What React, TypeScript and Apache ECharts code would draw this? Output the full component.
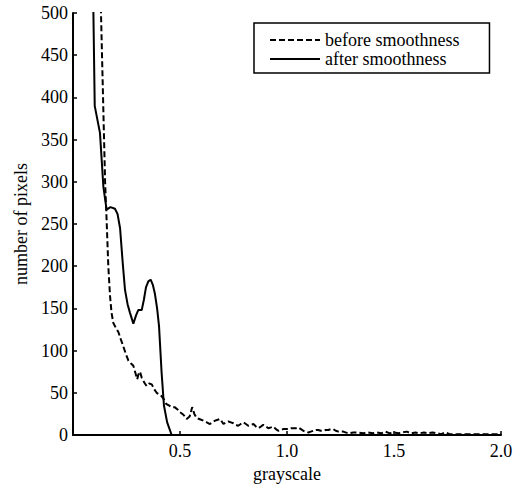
import React, { useEffect, useRef } from "react";
import * as echarts from "echarts";

const xTicks = ["0.5", "1.0", "1.5", "2.0"];
const beforeX = [0.125, 0.15, 0.157, 0.165, 0.173, 0.18, 0.188, 0.2, 0.212, 0.224, 0.235, 0.247, 0.259, 0.27, 0.282, 0.291, 0.3, 0.306, 0.313, 0.321, 0.329, 0.336, 0.344, 0.356, 0.368, 0.38, 0.391, 0.403, 0.414, 0.425, 0.435, 0.448, 0.461, 0.475, 0.49, 0.5, 0.516, 0.531, 0.545, 0.557, 0.567, 0.578, 0.59, 0.609, 0.625, 0.64, 0.652, 0.664, 0.676, 0.687, 0.703, 0.715, 0.726, 0.738, 0.749, 0.761, 0.772, 0.784, 0.796, 0.808, 0.819, 0.831, 0.843, 0.855, 0.866, 0.878, 0.889, 0.901, 0.913, 0.925, 0.936, 0.948, 0.959, 0.971, 0.983, 0.995, 1.006, 1.018, 1.03, 1.041, 1.053, 1.065, 1.076, 1.088, 1.1, 1.111, 1.123, 1.135, 1.146, 1.158, 1.17, 1.181, 1.193, 1.205, 1.216, 1.228, 1.24, 1.263, 1.286, 1.31, 1.33, 1.355, 1.38, 1.4, 1.42, 1.44, 1.46, 1.48, 1.5, 1.52, 1.54, 1.56, 1.58, 1.6, 1.62, 1.64, 1.66, 1.68, 1.7, 1.72, 1.74, 1.76, 1.78, 1.8, 1.85, 1.9, 1.95, 2.0];
const beforeY = [560, 300, 255, 200, 165, 145, 133, 127, 122, 113, 105, 96, 88, 85, 82, 74, 66, 72, 75, 68, 64, 61, 58, 61, 60, 54, 50, 48, 46, 42, 37, 35, 33, 33, 30, 27, 24, 19, 22, 33, 25, 20, 19, 17, 15, 13, 15, 17, 18, 19, 13, 15, 16, 15, 14, 12, 11, 13, 15, 13, 11, 12, 13, 10, 8, 10, 12, 10, 8, 9, 10, 7, 5, 6, 7, 7, 7, 8, 8, 8, 9, 7, 5, 4, 3, 4, 5, 6, 6, 5, 5, 6, 6, 7, 7, 5, 4, 4, 2, 3, 3, 2, 3, 2, 3, 2, 4, 2, 3, 2, 3, 4, 2, 3, 2, 3, 2, 3, 2, 1, 3, 1, 1, 1, 1, 1, 1, 1];
const afterX = [0.092, 0.1015, 0.126, 0.142, 0.157, 0.175, 0.196, 0.208, 0.22, 0.232, 0.243, 0.255, 0.266, 0.282, 0.295, 0.305, 0.321, 0.331, 0.341, 0.352, 0.363, 0.373, 0.383, 0.393, 0.402, 0.414, 0.425, 0.44, 0.461, 0.5, 1.0, 1.5, 2.0];
const afterY = [560, 390, 358, 294, 267, 270, 268, 262, 245, 205, 172, 155, 145, 132, 142, 148, 148, 160, 175, 182, 184, 178, 167, 150, 129, 74, 35, 15, 0, 0, 0, 0, 0];

const toPairs = (xs: number[], ys: number[]) => xs.map((x, i) => [x, ys[i]]);

const dashedIcon =
  "path://M0,0h6v2h-6zM9,0h6v2h-6zM18,0h6v2h-6zM27,0h6v2h-6zM36,0h6v2h-6zM45,0h5v2h-5z";
const solidIcon = "path://M0,0h50v2h-50z";

export default function App() {
  const ref = useRef<HTMLDivElement>(null);
  useEffect(() => {
    if (!ref.current) return;
    const chart = echarts.init(ref.current, null, { renderer: "svg" });
    const font = "Liberation Serif";
    const txt = { fontFamily: font, fontSize: 18, color: "#000" };
    chart.setOption({
      animation: false,
      backgroundColor: "#fff",
      textStyle: { fontFamily: font },
      grid: { left: 73, right: 20, top: 13, bottom: 54 },
      legend: {
        left: 254,
        top: 23,
        orient: "vertical",
        itemWidth: 50,
        itemHeight: 2,
        itemGap: 1,
        padding: [8, 30, 5, 16],
        borderColor: "#000",
        borderWidth: 1.5,
        borderRadius: 0,
        itemStyle: { color: "#000", borderWidth: 0 },
        lineStyle: { width: 0 },
        textStyle: { ...txt, lineHeight: 18 },
        data: [
          { name: "before smoothness", icon: dashedIcon },
          { name: "after smoothness", icon: solidIcon },
        ],
      },
      xAxis: {
        type: "value",
        min: 0,
        max: 2,
        interval: 0.5,
        name: "grayscale",
        nameLocation: "middle",
        nameGap: 30,
        nameTextStyle: txt,
        axisLine: { onZero: false, lineStyle: { color: "#000", width: 2 } },
        axisTick: { inside: true, length: 4, lineStyle: { color: "#000", width: 1.5 } },
        axisLabel: {
          ...txt,
          showMinLabel: false,
          margin: 7,
          formatter: (v: number) => {
            const s = v.toFixed(1);
            return xTicks.includes(s) ? s : "";
          },
        },
        splitLine: { show: false },
      },
      yAxis: {
        type: "value",
        min: 0,
        max: 500,
        interval: 50,
        name: "number of pixels",
        nameLocation: "middle",
        nameGap: 42,
        nameTextStyle: txt,
        axisLine: { show: true, lineStyle: { color: "#000", width: 2 } },
        axisTick: { show: true, inside: true, length: 4, lineStyle: { color: "#000", width: 1.5 } },
        axisLabel: { ...txt, margin: 5 },
        splitLine: { show: false },
      },
      series: [
        {
          name: "before smoothness",
          type: "line",
          data: toPairs(beforeX, beforeY),
          showSymbol: false,
          symbol: "none",
          clip: true,
          lineStyle: { color: "#000", width: 2, type: [6, 3] },
          itemStyle: { color: "#000" },
        },
        {
          name: "after smoothness",
          type: "line",
          data: toPairs(afterX, afterY),
          showSymbol: false,
          symbol: "none",
          clip: true,
          lineStyle: { color: "#000", width: 2 },
          itemStyle: { color: "#000" },
        },
      ],
    });
    return () => chart.dispose();
  }, []);
  return (
    <div
      ref={ref}
      style={{ position: "fixed", left: 0, top: 0, width: 521, height: 489, background: "#fff" }}
    />
  );
}
